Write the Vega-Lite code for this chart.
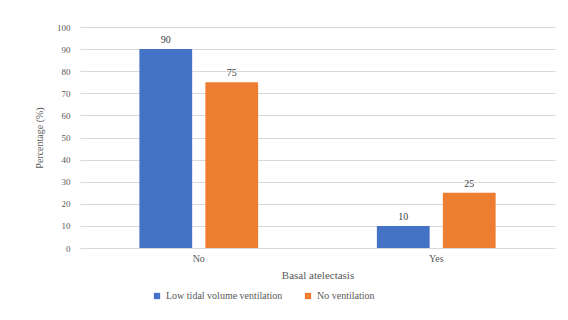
{
  "$schema": "https://vega.github.io/schema/vega-lite/v6.json",
  "autosize": "none",
  "width": 475,
  "height": 221,
  "padding": {"left": 80, "top": 27, "right": 13, "bottom": 72},
  "background": "white",
  "config": {
    "view": {"stroke": null},
    "font": "Liberation Serif, serif",
    "text": {"font": "Liberation Serif, serif"},
    "axis": {"labelFont": "Liberation Serif, serif", "titleFont": "Liberation Serif, serif", "labelColor": "#595959", "titleColor": "#595959", "titleFontWeight": "normal"},
    "legend": {"labelFont": "Liberation Serif, serif", "labelColor": "#595959"}
  },
  "data": {
    "values": [
      {"atelectasis": "No", "group": "Low tidal volume ventilation", "pct": 90},
      {"atelectasis": "No", "group": "No ventilation", "pct": 75},
      {"atelectasis": "Yes", "group": "Low tidal volume ventilation", "pct": 10},
      {"atelectasis": "Yes", "group": "No ventilation", "pct": 25}
    ]
  },
  "encoding": {
    "x": {
      "field": "atelectasis", "type": "nominal",
      "scale": {"paddingInner": 0.5, "paddingOuter": 0.25},
      "axis": {"title": "Basal atelectasis", "labelAngle": 0, "labelFontSize": 10, "titleFontSize": 11, "ticks": false, "domainColor": "#d9d9d9", "labelPadding": 5, "titlePadding": 6}
    },
    "xOffset": {"field": "group", "type": "nominal", "scale": {"paddingInner": 0.2, "paddingOuter": 0}},
    "y": {
      "field": "pct", "type": "quantitative",
      "scale": {"domain": [0, 100]},
      "axis": {"title": "Percentage (%)", "values": [0,10,20,30,40,50,60,70,80,90,100], "ticks": false, "domain": false, "gridColor": "#d9d9d9", "labelFontSize": 9, "titleFontSize": 10, "labelPadding": 10, "titlePadding": 12}
    }
  },
  "layer": [
    {
      "mark": {"type": "bar"},
      "encoding": {
        "color": {
          "field": "group", "type": "nominal",
          "scale": {"domain": ["Low tidal volume ventilation", "No ventilation"], "range": ["#4472C4", "#ED7D31"]},
          "legend": {"title": null, "orient": "none", "direction": "horizontal", "legendX": 72, "legendY": 264, "symbolType": "square", "symbolSize": 40, "labelFont": "Liberation Serif, serif", "labelFontSize": 10, "labelColor": "#595959", "columnPadding": 20, "symbolStrokeWidth": 0}
        }
      }
    },
    {
      "mark": {"type": "text", "dy": -9, "fontSize": 10, "font": "Liberation Serif, serif", "color": "#404040"},
      "encoding": {"text": {"field": "pct", "type": "quantitative"}}
    }
  ]
}
